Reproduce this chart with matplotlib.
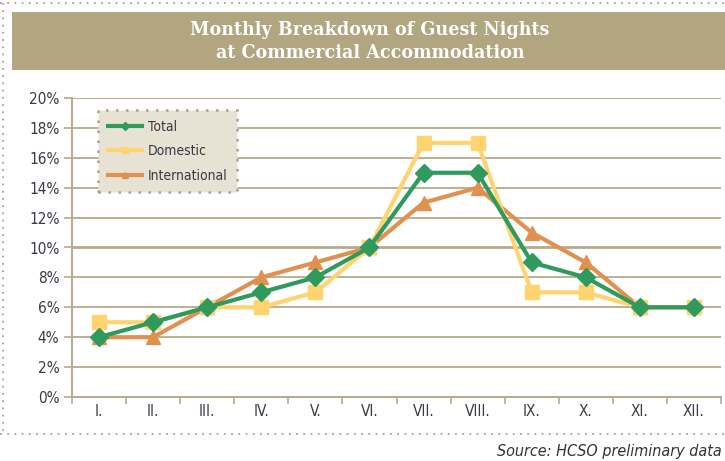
import matplotlib
matplotlib.use("Agg")
import matplotlib.pyplot as plt
import matplotlib.patches as mpatches
from matplotlib.lines import Line2D

months = ["I.", "II.", "III.", "IV.", "V.", "VI.", "VII.", "VIII.", "IX.", "X.", "XI.", "XII."]
total = [4, 5, 6, 7, 8, 10, 15, 15, 9, 8, 6, 6]
domestic = [5, 5, 6, 6, 7, 10, 17, 17, 7, 7, 6, 6]
international = [4, 4, 6, 8, 9, 10, 13, 14, 11, 9, 6, 6]
y_ticks = [0, 2, 4, 6, 8, 10, 12, 14, 16, 18, 20]

GREEN = "#2f9a5c"
YELLOW = "#ffd470"
ORANGE = "#e0904f"
TAN = "#b1a67f"
GRID = "#b5ab8a"
DOT = "#a9a48e"
LABEL = "#3a3a46"
NARROW = {"family": "DejaVu Sans", "stretch": "condensed"}

fig = plt.figure(figsize=(7.25, 4.61), dpi=100)

# --- dotted frame around the whole graphic ---
dots = dict(transform=fig.transFigure, color=DOT, lw=1.3, ls=(0, (1, 3)))
fig.add_artist(Line2D([0, 1], [1 - 3 / 461] * 2, **dots))
fig.add_artist(Line2D([3 / 725] * 2, [1 - 3 / 461, 1 - 434 / 461], **dots))
fig.add_artist(Line2D([0, 1], [1 - 434 / 461] * 2, **dots))

# --- title banner ---
fig.add_artist(mpatches.Rectangle((12 / 725, 1 - 70 / 461), 1, 58 / 461,
                                  transform=fig.transFigure, facecolor=TAN, edgecolor="none"))
for txt, yy in (("Monthly Breakdown of Guest Nights", 30),
                ("at Commercial Accommodation", 53)):
    fig.text(370 / 725, 1 - yy / 461, txt, ha="center", va="center", color="white",
             fontsize=14, fontweight="bold", family="DejaVu Serif", stretch="condensed")

# --- main axes ---
ax = fig.add_axes([72 / 725, 1 - 397 / 461, (721 - 72) / 725, (397 - 98) / 461])
x = list(range(len(months)))

ax.plot(x, international, color=ORANGE, lw=3, marker="^", markersize=10, zorder=3)
ax.plot(x, domestic, color=YELLOW, lw=3, marker="s", markersize=10, zorder=4)
ax.plot(x, total, color=GREEN, lw=3, marker="D", markersize=9, zorder=5)

ax.set_xlim(-0.5, len(months) - 0.5)
ax.set_ylim(0, 20)
ax.set_yticks(y_ticks)
ax.set_yticklabels([f"{v}%" for v in y_ticks], fontsize=11, color=LABEL, **NARROW)
ax.set_xticks(x)
ax.set_xticklabels(months, fontsize=11, color=LABEL, **NARROW)
ax.set_xticks([i - 0.5 for i in range(len(months) + 1)], minor=True)
ax.tick_params(axis="x", which="major", length=0, pad=5)
ax.tick_params(axis="x", which="minor", length=5, color=GRID, width=1.2)
ax.tick_params(axis="y", length=6, color=GRID, width=1.2, pad=3)

for v in y_ticks[1:]:
    ax.axhline(v, color=GRID, lw=2.0 if v == 10 else 1.3, zorder=1)

for side in ("top", "right"):
    ax.spines[side].set_visible(False)
for side in ("left", "bottom"):
    ax.spines[side].set_color(GRID)
    ax.spines[side].set_linewidth(1.4)

handles = [
    Line2D([], [], color=GREEN, lw=3, marker="D", markersize=4, label="Total"),
    Line2D([], [], color=YELLOW, lw=3, marker="s", markersize=4, label="Domestic"),
    Line2D([], [], color=ORANGE, lw=3, marker="^", markersize=4, label="International"),
]
leg = ax.legend(handles=handles, loc="upper left", borderaxespad=0,
                bbox_to_anchor=(98 / 725, 1 - 110 / 461), bbox_transform=fig.transFigure,
                prop={"size": 10, **NARROW}, fancybox=False, framealpha=1,
                facecolor="#e8e2d4", edgecolor=DOT, handlelength=2.5,
                borderpad=0.7, labelspacing=0.75, handletextpad=0.4)
leg.get_frame().set_linestyle((0, (1, 3)))
leg.get_frame().set_linewidth(1.8)
for t in leg.get_texts():
    t.set_color(LABEL)
leg.set_zorder(10)

fig.text(497 / 725, 1 - 451 / 461, "Source: HCSO preliminary data",
         ha="left", va="center", fontsize=11.5, style="italic", color="#333333", **NARROW)

fig.savefig("out.png", dpi=100)
